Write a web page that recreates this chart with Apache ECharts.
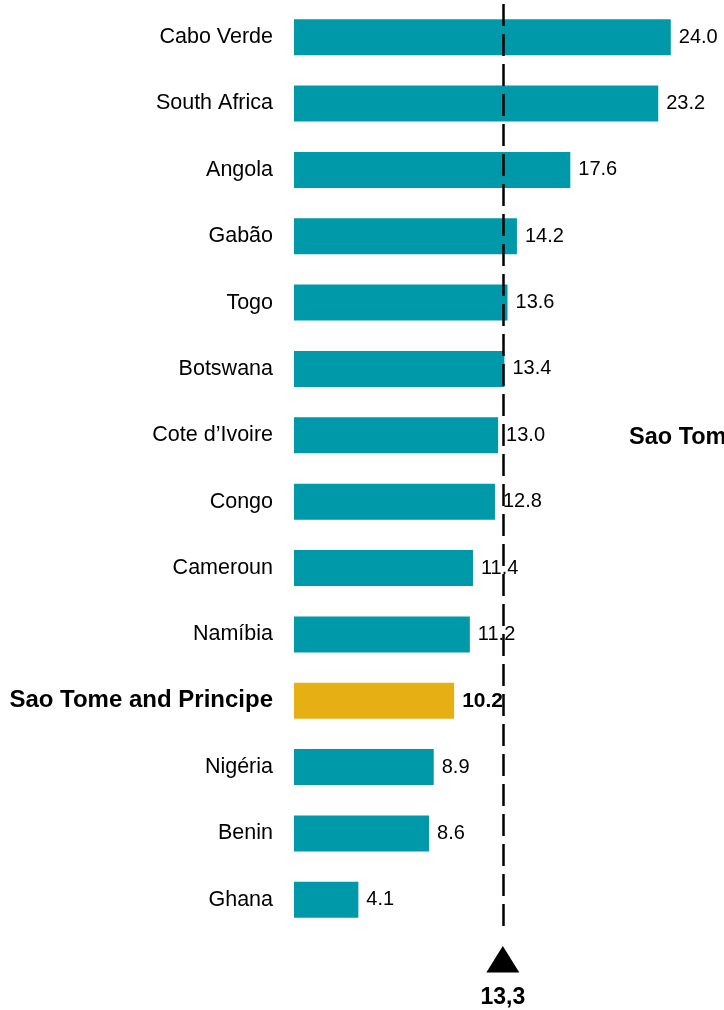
<!DOCTYPE html>
<html>
<head>
<meta charset="utf-8">
<script src="https://cdn.jsdelivr.net/npm/echarts/dist/echarts.min.js"></script>
<style>
html,body{margin:0;padding:0;background:#fff;}
#chart{width:724px;height:1010px;}
</style>
</head>
<body>
<div id="chart"></div>
<script>
const categories = ['Cabo Verde','South Africa','Angola','Gabão','Togo','Botswana','Cote d’Ivoire','Congo','Cameroun','Namíbia','Sao Tome and Principe','Nigéria','Benin','Ghana'];
const values = [24.0,23.2,17.6,14.2,13.6,13.4,13.0,12.8,11.4,11.2,10.2,8.9,8.6,4.1];
const highlight = 'Sao Tome and Principe';
const averageValue = 13.3;
const averageLabel = '13,3';
const sideNote = 'Sao Tome and Principe';

const FONT = '"Liberation Sans", Arial, Helvetica, sans-serif';
const TEAL = '#0099A9';
const GOLD = '#E6AF14';

const chart = echarts.init(document.getElementById('chart'), null, {renderer: 'canvas'});

const seriesData = values.map((v, i) => {
  const hi = categories[i] === highlight;
  return {
    value: v,
    itemStyle: {color: hi ? GOLD : TEAL},
    label: hi ? {fontWeight: 'bold', fontSize: 21} : undefined
  };
});

chart.setOption({
  animation: false,
  backgroundColor: '#fff',
  grid: {left: 294, right: 37.5, top: 4, bottom: 77, containLabel: false},
  xAxis: {
    type: 'value', min: 0, max: 25,
    show: false
  },
  yAxis: {
    type: 'category', data: categories, inverse: true,
    axisLine: {show: false}, axisTick: {show: false}, splitLine: {show: false},
    axisLabel: {
      margin: 21, color: '#000', fontSize: 21.5, fontFamily: FONT,
      formatter: (v) => v === highlight ? '{b|' + v + '}' : v,
      rich: {b: {fontWeight: 'bold', fontSize: 24, color: '#000', fontFamily: FONT}}
    }
  },
  series: [{
    type: 'bar',
    data: seriesData,
    barWidth: 36,
    label: {
      show: true, position: 'right', distance: 8,
      color: '#000', fontSize: 20, fontFamily: FONT,
      formatter: (p) => p.value.toFixed(1)
    },
    markLine: {
      silent: true,
      symbol: ['none', 'none'],
      label: {show: false},
      lineStyle: {color: '#000', width: 2.5, type: [22, 8]},
      data: [{xAxis: averageValue}]
    },
    z: 2
  }]
});

const ax = chart.convertToPixel({xAxisIndex: 0}, averageValue);
chart.setOption({
  graphic: [
    {type: 'polygon', shape: {points: [[ax, 946], [ax - 16.5, 972.5], [ax + 16.5, 972.5]]}, style: {fill: '#000'}},
    {type: 'text', x: ax, y: 998, style: {text: averageLabel, font: 'bold 23px ' + FONT, fill: '#000', align: 'center', verticalAlign: 'middle'}},
    {type: 'text', x: 629, y: 438, style: {text: sideNote, font: 'bold 23.5px ' + FONT, fill: '#000', align: 'left', verticalAlign: 'middle'}}
  ]
});
</script>
</body>
</html>
